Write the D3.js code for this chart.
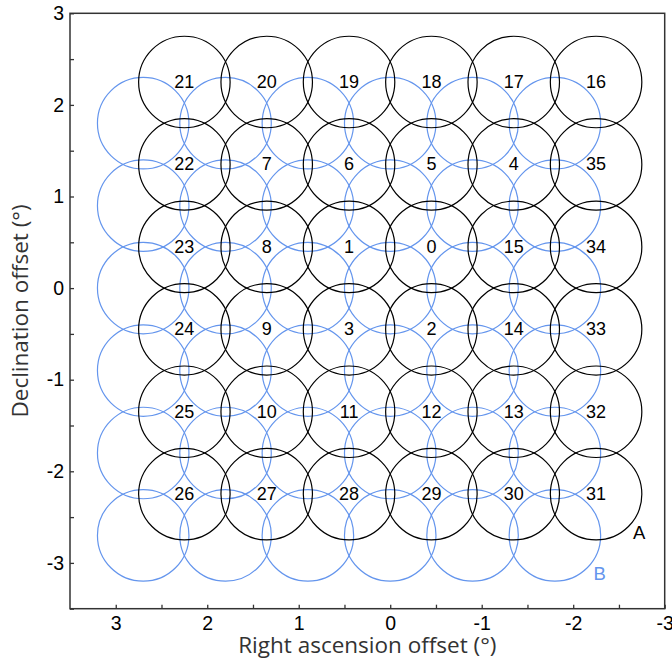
<!DOCTYPE html>
<html>
<head>
<meta charset="utf-8">
<script src="https://cdn.jsdelivr.net/npm/d3@7"></script>
<style>
  html, body { margin: 0; padding: 0; background: #fff; }
  svg { display: block; }
</style>
</head>
<body>
<svg id="chart" width="672" height="661"></svg>
<script>
// Pointing grid A: beam centres (degrees) and beam IDs, row by row from the top
const gridAx = [2.25, 1.35, 0.45, -0.45, -1.35, -2.25];
const gridAy = [2.25, 1.35, 0.45, -0.45, -1.35, -2.25];
const beamIds = [
  [21, 20, 19, 18, 17, 16],
  [22, 7, 6, 5, 4, 35],
  [23, 8, 1, 0, 15, 34],
  [24, 9, 3, 2, 14, 33],
  [25, 10, 11, 12, 13, 32],
  [26, 27, 28, 29, 30, 31]
];
// Pointing grid B: interleaved beam centres (degrees)
const gridBx = [2.7, 1.8, 0.9, 0, -0.9, -1.8];
const gridBy = [1.8, 0.9, 0, -0.9, -1.8, -2.7];
const beamRadius = 0.5;

// Axis ticks
const majorTicks = [-3, -2, -1, 0, 1, 2, 3];
const minorTicks = [-3.5, -2.5, -1.5, -0.5, 0.5, 1.5, 2.5];

const svg = d3.select("#chart");
const margin = { left: 70, top: 13.3, right: 7.3, bottom: 52.3 };
const W = 672 - margin.left - margin.right;
const H = 661 - margin.top - margin.bottom;

// Right ascension increases to the left
const x = d3.scaleLinear().domain([3.5, -3]).range([0, W]);
const y = d3.scaleLinear().domain([-3.5, 3]).range([H, 0]);
const unit = Math.abs(x(1) - x(0));

const g = svg.append("g").attr("transform", `translate(${margin.left},${margin.top})`);

const blue = "#6495ed";
const sans = "Liberation Sans, Arial, sans-serif";

// Grid B beams
const beamsB = [];
gridBy.forEach(cy => gridBx.forEach(cx => beamsB.push({ cx, cy })));
g.append("g").selectAll("circle").data(beamsB).join("circle")
  .attr("cx", d => x(d.cx)).attr("cy", d => y(d.cy))
  .attr("r", beamRadius * unit)
  .attr("fill", "none").attr("stroke", blue).attr("stroke-width", 1.2);

// Grid A beams with their IDs
const beamsA = [];
gridAy.forEach((cy, i) => gridAx.forEach((cx, j) => beamsA.push({ cx, cy, id: beamIds[i][j] })));
g.append("g").selectAll("circle").data(beamsA).join("circle")
  .attr("cx", d => x(d.cx)).attr("cy", d => y(d.cy))
  .attr("r", beamRadius * unit)
  .attr("fill", "none").attr("stroke", "#000").attr("stroke-width", 1.2);

g.append("g").selectAll("text").data(beamsA).join("text")
  .attr("x", d => x(d.cx)).attr("y", d => y(d.cy))
  .attr("text-anchor", "middle").attr("dominant-baseline", "central")
  .attr("font-family", sans)
  .attr("font-size", 18)
  .attr("fill", "#000")
  .text(d => d.id);

// Grid names
g.append("text").attr("x", x(-2.72)).attr("y", y(-2.67))
  .attr("text-anchor", "middle").attr("dominant-baseline", "central")
  .attr("font-family", sans).attr("font-size", 18.5)
  .attr("fill", "#000").text("A");
g.append("text").attr("x", x(-2.29)).attr("y", y(-3.12))
  .attr("text-anchor", "middle").attr("dominant-baseline", "central")
  .attr("font-family", sans).attr("font-size", 18.5)
  .attr("fill", blue).text("B");

// Frame
const axisColor = "#333";
g.append("rect").attr("x", 0).attr("y", 0).attr("width", W).attr("height", H)
  .attr("fill", "none").attr("stroke", axisColor).attr("stroke-width", 1.5);

// Inward ticks, plain hyphen for negatives
const tickLen = 4;
const fmt = d => String(d);
const xAxis = d3.axisBottom(x).tickValues(majorTicks).tickSizeInner(-tickLen).tickSizeOuter(0)
  .tickPadding(7).tickFormat(fmt);
const xMinor = d3.axisBottom(x).tickValues(minorTicks).tickSizeInner(-tickLen).tickSizeOuter(0)
  .tickFormat("");
const yAxis = d3.axisLeft(y).tickValues(majorTicks).tickSizeInner(-tickLen).tickSizeOuter(0)
  .tickPadding(6).tickFormat(fmt);
const yMinor = d3.axisLeft(y).tickValues(minorTicks).tickSizeInner(-tickLen).tickSizeOuter(0)
  .tickFormat("");

function styleAxis(sel) {
  sel.select(".domain").remove();
  sel.selectAll("line").attr("stroke", axisColor).attr("stroke-width", 1.3);
  sel.selectAll("text")
    .attr("font-family", sans)
    .attr("font-size", 19.5).attr("fill", "#000");
}
g.append("g").attr("transform", `translate(0,${H})`).call(xAxis).call(styleAxis);
g.append("g").attr("transform", `translate(0,${H})`).call(xMinor).call(styleAxis);
g.append("g").call(yAxis).call(styleAxis);
g.append("g").call(yMinor).call(styleAxis);

// Axis titles
g.append("text")
  .attr("x", W / 2).attr("y", 653 - margin.top)
  .attr("text-anchor", "middle")
  .attr("font-family", "Open Sans, Noto Sans, sans-serif").attr("font-size", 22.5)
  .attr("fill", "#333")
  .text("Right ascension offset (°)");
g.append("text")
  .attr("transform", `translate(${-margin.left + 28},${H / 2}) rotate(-90)`)
  .attr("text-anchor", "middle")
  .attr("font-family", "Open Sans, Noto Sans, sans-serif").attr("font-size", 22.5)
  .attr("fill", "#333")
  .text("Declination offset (°)");
</script>
</body>
</html>
